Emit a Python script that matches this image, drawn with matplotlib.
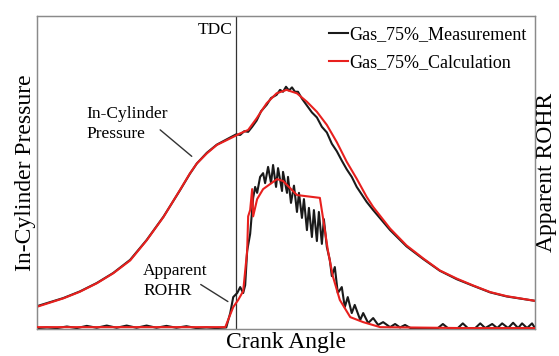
import numpy as np
import matplotlib.pyplot as plt

# os X: kąt obrotu wału (stopnie, TDC = 0), os Y: jednostki umowne
deg_min, deg_max = -40, 60

# cisnienie w cylindrze - obliczenia (czerwona)
p_calc_deg = [-40, -34.7, -31.4, -28.0, -24.7, -21.3, -18.0, -14.6, -11.3,
              -9.3, -7.9, -5.9, -3.9, -1.2, 0.8, 2.4, 4.1, 6.1, 8.1, 10.1,
              12.2, 14.2, 16.2, 18.2, 20.2, 22.2, 24.2, 26.2, 27.5, 30.9,
              34.2, 37.6, 40.9, 44.3, 47.6, 51.0, 54.3, 60]
p_calc = [7.1, 9.8, 11.9, 14.6, 17.8, 21.9, 28.3, 35.8, 44.4, 49.7, 52.9,
          56.1, 58.8, 60.9, 62.5, 63.6, 67.3, 72.1, 75.3, 76.4, 75.3, 72.6,
          69.4, 65.2, 59.7, 53.4, 48.0, 42.2, 39.0, 32.1, 26.7, 22.5, 18.7,
          16.1, 13.9, 11.8, 10.5, 9.0]

# cisnienie w cylindrze - pomiar (czarna)
p_meas_deg = [-40, -34.7, -31.4, -28.0, -24.7, -21.3, -18.0, -14.6, -11.3,
              -9.3, -7.9, -5.9, -3.9, -1.2, 0, 0.8, 1.6, 2.4, 3.2, 4.1, 5.0,
              6.1, 7.0, 8.1, 8.8, 9.4, 10.0, 10.6, 11.2, 11.8, 12.4, 13.2,
              14.2, 15.2, 16.2, 17.2, 18.2, 19.2, 20.2, 21.2, 22.2, 23.2, 24.2,
              26.2, 27.5, 30.9, 34.2, 37.6, 40.9, 44.3, 47.6, 51.0, 54.3, 60]
p_meas = [7.3, 9.9, 12.0, 14.7, 17.9, 22.1, 28.4, 35.9, 44.3, 49.6, 52.9,
          56.3, 58.9, 61.2, 62.2, 62.0, 63.2, 63.0, 64.6, 66.6, 69.6, 71.6,
          73.8, 74.8, 76.4, 75.8, 77.4, 76.2, 77.2, 75.8, 75.8, 73.6, 71.4,
          69.2, 67.6, 64.6, 62.8, 59.2, 56.8, 53.8, 51.0, 48.6, 45.4, 40.6,
          38.0, 31.6, 26.4, 22.3, 18.6, 15.9, 13.8, 11.7, 10.4, 9.0]

# szybkosc wydzielania ciepla (ROHR) - obliczenia
q_calc_deg = [-40, -2.2, -0.6, 0.4, 1.4, 2.2, 2.4, 2.8, 3.2, 3.4, 4.2, 5.4,
              8.2, 9.4, 12.2, 16.8, 17.4, 18.4, 19.4, 20.8, 22.9, 25.5, 28.9,
              45.5, 60]
q_calc = [0.6, 0.6, 7.0, 9.3, 12.1, 25.0, 36.0, 38.0, 44.7, 36.0, 41.5, 44.7,
          47.9, 47.3, 42.8, 41.9, 35.8, 25.2, 16.9, 9.3, 3.8, 2.2, 0.6,
          0.3, 0.3]

# ROHR - pomiar (z oscylacjami)
q_meas_deg = [-40, -38, -36, -34, -32, -30, -28, -26, -24, -22, -20, -18, -16,
              -14, -12, -10, -8, -6, -4, -2, -1.2, -0.6, 0.2, 0.8, 1.4, 1.8,
              2.2, 2.8, 3.4, 3.8, 4.2, 4.8, 5.4, 5.8, 6.4, 7.0, 7.4, 8.0, 8.4,
              9.2, 9.4, 10.2, 10.4, 11.0, 11.6, 12.2, 12.6, 13.2, 13.6, 14.2,
              14.6, 15.2, 15.6, 16.2, 16.6, 17.2, 17.6, 18.2, 18.8, 19.2, 19.8,
              20.4, 21.2, 21.8, 22.4, 23.2, 23.8, 24.9, 25.5, 26.5, 27.5, 28.5,
              29.5, 30.9, 31.9, 32.9, 33.9, 35, 38, 40.5, 41.5, 42.5, 44.5,
              45.5, 46.5, 48, 49, 50, 51.4, 52.4, 53.4, 54.6, 55.6, 56.6, 57.4,
              58.4, 59.4, 60]
q_meas = [0.3, 0.5, 0.3, 0.8, 0.3, 1.0, 0.4, 1.1, 0.4, 1.1, 0.4, 1.1, 0.4,
          1.0, 0.4, 0.9, 0.3, 0.5, 0.3, 0.5, 5.1, 10.2, 11.5, 13.4, 11.5, 14.0,
          25.0, 30.4, 41.9, 45.4, 43.5, 48.6, 49.8, 46.6, 51.8, 46.6, 52.4,
          45.4, 51.4, 44.1, 50.2, 43.5, 48.6, 40.3, 45.8, 37.4, 43.5, 35.5,
          41.5, 31.6, 38.7, 29.4, 38.0, 28.1, 37.4, 27.2, 35.1, 26.2, 22.0,
          16.9, 19.8, 11.5, 13.4, 7.0, 10.2, 5.1, 7.7, 2.9, 5.1, 1.9, 3.5, 1.3,
          2.2, 0.6, 1.6, 0.5, 1.3, 0.3, 0.3, 0.3, 1.6, 0.3, 0.3, 1.8, 0.3, 0.3,
          1.8, 0.3, 1.6, 0.3, 1.8, 0.3, 2.0, 0.3, 1.8, 0.3, 1.8, 0.3]

plt.rcParams['font.family'] = ['Liberation Serif', 'DejaVu Serif']

fig = plt.figure(figsize=(5.59, 3.56), dpi=100)
ax = fig.add_axes([0.0662, 0.0758, 0.8909, 0.8792])
ax2 = ax.twinx()

lw = 1.5
ax.plot(p_meas_deg, p_meas, color='#1a1a1a', lw=lw, zorder=2)
ax.plot(p_calc_deg, p_calc, color='#e8201e', lw=lw, zorder=3)
ax2.plot(q_meas_deg, q_meas, color='#1a1a1a', lw=lw,
         label='Gas_75%_Measurement', zorder=2)
ax2.plot(q_calc_deg, q_calc, color='#e8201e', lw=lw,
         label='Gas_75%_Calculation', zorder=3)

# linia TDC
ax.axvline(0, color='#333333', lw=0.9, zorder=1)

for a in (ax, ax2):
    a.set_xlim(deg_min, deg_max)
    a.set_ylim(0, 100)
    a.set_xticks([])
    a.set_yticks([])
    for s in a.spines.values():
        s.set_color('#8a8a8a')
        s.set_linewidth(0.9)

ax.set_xlabel('Crank Angle', fontsize=17, labelpad=2)
ax.set_ylabel('In-Cylinder Pressure', fontsize=17, labelpad=1)
ax2.set_ylabel('Apparent ROHR', fontsize=17, labelpad=1)

# opisy
ax.text(-0.8, 95.5, 'TDC', fontsize=12.5, ha='right', va='center')
ax.text(-30, 65.5, 'In-Cylinder\nPressure', fontsize=12.5, ha='left',
        va='center', linespacing=1.3)
ax.annotate('', xy=(-8.5, 54.6), xytext=(-15.7, 64.2),
            arrowprops=dict(arrowstyle='-', color='#333333', lw=1))
ax.text(-18.7, 15.3, 'Apparent\nROHR', fontsize=12.5, ha='left',
        va='center', linespacing=1.3)
ax.annotate('', xy=(-1.2, 8.3), xytext=(-7.6, 14.7),
            arrowprops=dict(arrowstyle='-', color='#333333', lw=1))

ax2.legend(loc='upper right', bbox_to_anchor=(0.984, 0.968), frameon=False,
           fontsize=13, handlelength=1.05, handletextpad=0.1,
           labelspacing=0.6, borderpad=0, borderaxespad=0)

plt.savefig('out.png', dpi=100)
plt.close()
